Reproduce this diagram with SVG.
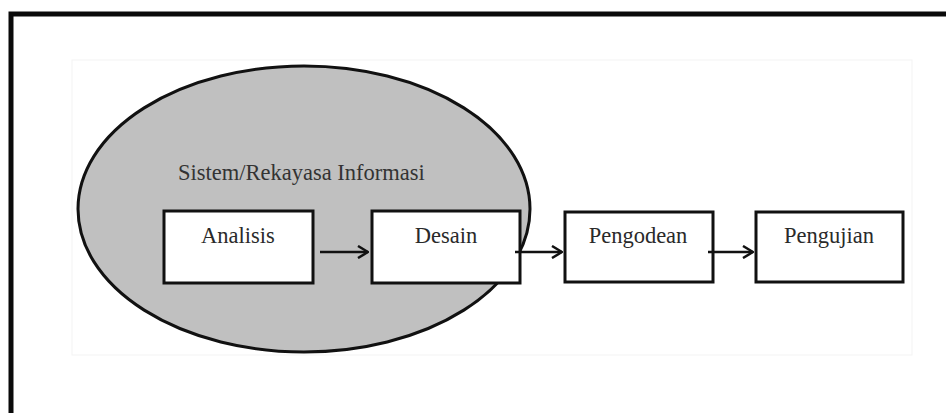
<svg xmlns="http://www.w3.org/2000/svg" width="946" height="413" viewBox="0 0 946 413">
  <defs>
    <style>
      .box { fill: #ffffff; stroke: #111111; stroke-width: 3; }
      .lbl { font-family: "Liberation Serif", "Times New Roman", serif; font-size: 22.5px; fill: #2a2a2a; text-anchor: middle; }
      .title { font-family: "Liberation Serif", "Times New Roman", serif; font-size: 22.5px; fill: #333333; }
      .conn { stroke: #111111; stroke-width: 2.5; fill: none; marker-end: url(#arrow); }
    </style>
    <marker id="arrow" viewBox="0 0 12 14" refX="11" refY="7" markerWidth="12" markerHeight="14" markerUnits="userSpaceOnUse" orient="auto">
      <path d="M1,1 L11,7 L1,13" fill="none" stroke="#111111" stroke-width="2.5"/>
    </marker>
  </defs>
  <rect x="0" y="0" width="946" height="413" fill="#ffffff"/>
  <rect x="11" y="14" width="960" height="430" fill="none" stroke="#0a0a0a" stroke-width="5"/>
  <rect x="72" y="60" width="840" height="295" fill="none" stroke="#f3f3f3" stroke-width="1"/>

  <g id="sistem">
    <ellipse cx="304" cy="209" rx="226" ry="143" fill="#c0c0c0" stroke="#111111" stroke-width="3"/>
    <text class="title" x="178" y="180">Sistem/Rekayasa Informasi</text>
  </g>

  <g id="analisis">
    <rect class="box" x="164" y="211" width="149" height="72"/>
    <text class="lbl" x="238" y="243">Analisis</text>
  </g>
  <g id="desain">
    <rect class="box" x="372" y="211" width="148" height="72"/>
    <text class="lbl" x="446" y="243">Desain</text>
  </g>
  <g id="pengodean">
    <rect class="box" x="565" y="212" width="148" height="70"/>
    <text class="lbl" x="638" y="243">Pengodean</text>
  </g>
  <g id="pengujian">
    <rect class="box" x="756" y="212" width="147" height="70"/>
    <text class="lbl" x="829" y="243">Pengujian</text>
  </g>

  <g id="connectors">
    <line class="conn" x1="320" y1="252" x2="368" y2="252"/>
    <line class="conn" x1="515" y1="252" x2="562" y2="252"/>
    <line class="conn" x1="708" y1="252" x2="753" y2="252"/>
  </g>
</svg>
